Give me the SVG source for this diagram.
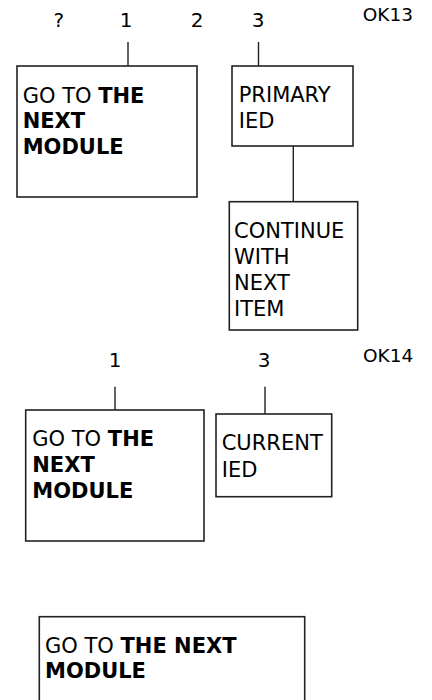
<svg xmlns="http://www.w3.org/2000/svg" width="432" height="700" viewBox="0 0 432 700">
<style>
.box{fill:#fff;stroke:#222;stroke-width:1.6}
.ln{stroke:#222;stroke-width:1.4;fill:none}
.t{font-family:"DejaVu Sans","Liberation Sans",sans-serif;font-size:21px;fill:#000}
.b{font-weight:bold}
.lbl{font-family:"DejaVu Sans","Liberation Sans",sans-serif;font-size:20px;fill:#000;text-anchor:middle}
.ok{font-family:"DejaVu Sans","Liberation Sans",sans-serif;font-size:18.5px;fill:#000}
</style>
<rect width="432" height="700" fill="#fff"/>
<g id="labels">
<text class="lbl" x="58.7" y="26.7">?</text>
<text class="lbl" x="126" y="26.7">1</text>
<text class="lbl" x="197" y="26.7">2</text>
<text class="lbl" x="258" y="26.7">3</text>
<text class="ok" x="362.7" y="20.7">OK13</text>
<text class="lbl" x="115" y="366.7">1</text>
<text class="lbl" x="264" y="366.7">3</text>
<text class="ok" x="363" y="361.7">OK14</text>
</g>
<g id="connectors">
<line class="ln" x1="128" y1="42" x2="128" y2="66"/>
<line class="ln" x1="258.5" y1="42" x2="258.5" y2="66"/>
<line class="ln" x1="293.3" y1="146" x2="293.3" y2="201.7"/>
<line class="ln" x1="115" y1="386.7" x2="115" y2="410"/>
<line class="ln" x1="265" y1="386.7" x2="265" y2="414"/>
</g>
<g id="n1">
<rect class="box" x="17" y="66" width="180" height="131"/>
<text class="t" x="22.7" y="102.7">GO TO <tspan class="b">THE</tspan></text>
<text class="t b" x="22.7" y="128.3">NEXT</text>
<text class="t b" x="22.7" y="154">MODULE</text>
</g>
<g id="n2">
<rect class="box" x="232" y="66" width="121" height="80"/>
<text class="t" x="238.7" y="102">PRIMARY</text>
<text class="t" x="238.7" y="128">IED</text>
</g>
<g id="n3">
<rect class="box" x="229.3" y="201.7" width="128.4" height="128.3"/>
<text class="t" x="234" y="237.7">CONTINUE</text>
<text class="t" x="234" y="264">WITH</text>
<text class="t" x="234" y="290">NEXT</text>
<text class="t" x="234" y="316">ITEM</text>
</g>
<g id="n4">
<rect class="box" x="25.7" y="410" width="178.3" height="131"/>
<text class="t" x="32.3" y="446">GO TO <tspan class="b">THE</tspan></text>
<text class="t b" x="32.3" y="472.3">NEXT</text>
<text class="t b" x="32.3" y="497.7">MODULE</text>
</g>
<g id="n5">
<rect class="box" x="216" y="414" width="115.7" height="82.7"/>
<text class="t" x="221.7" y="450">CURRENT</text>
<text class="t" x="221.7" y="476.7">IED</text>
</g>
<g id="n6">
<rect class="box" x="39.3" y="616.7" width="265.4" height="110"/>
<text class="t" x="45" y="653.3">GO TO <tspan class="b">THE NEXT</tspan></text>
<text class="t b" x="45" y="678.3">MODULE</text>
</g>
</svg>
